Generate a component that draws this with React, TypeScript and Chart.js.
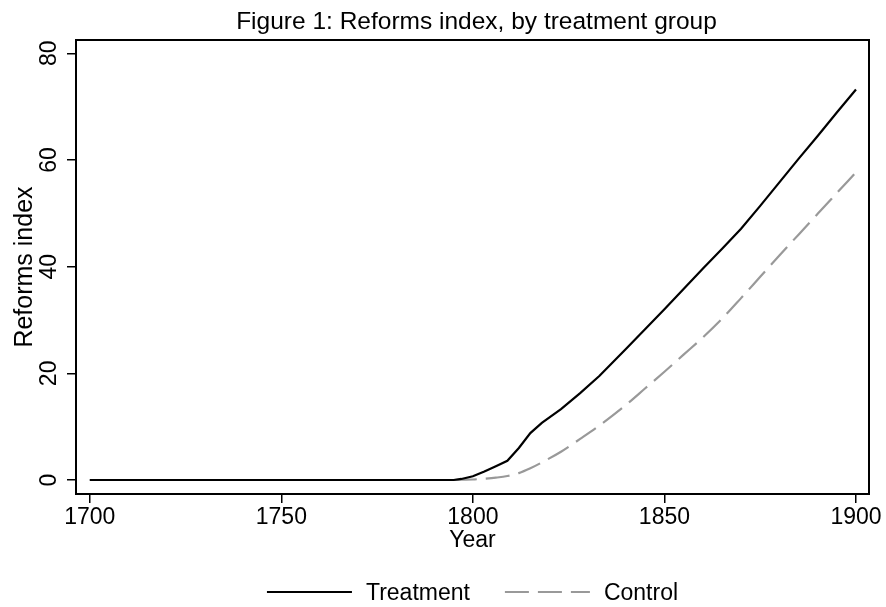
import React, { useEffect, useRef } from 'react';
import { Chart, registerables } from 'chart.js';

Chart.register(...registerables);

const titleText = 'Figure 1: Reforms index, by treatment group';
const xTitle = 'Year';
const yTitle = 'Reforms index';
const seriesNames = ['Treatment', 'Control'];

const years = [1700, 1795, 1797, 1800, 1803, 1806, 1809, 1812, 1815, 1818, 1823, 1828, 1833, 1840, 1845, 1850, 1855, 1860, 1865, 1870, 1875, 1880, 1885, 1890, 1895, 1900];
const treatment = [0, 0, 0.2, 0.7, 1.6, 2.6, 3.6, 6.0, 8.8, 10.7, 13.3, 16.3, 19.5, 24.6, 28.3, 32.0, 35.8, 39.6, 43.3, 47.1, 51.4, 55.8, 60.2, 64.5, 68.9, 73.2];
const control = [0, 0, 0.05, 0.1, 0.25, 0.45, 0.75, 1.3, 2.2, 3.3, 5.3, 7.7, 10.2, 14.1, 17.2, 20.3, 23.5, 26.7, 30.2, 34.1, 38.1, 42.1, 46.0, 49.9, 53.8, 57.7];

const xTicks = [1700, 1750, 1800, 1850, 1900];
const yTicks = [0, 20, 40, 60, 80];

const FONT = "'Liberation Sans', Arial, Helvetica, sans-serif";

export default function App() {
  const ref = useRef<HTMLCanvasElement>(null);

  useEffect(() => {
    document.body.style.margin = '0';
    const canvas = ref.current!;

    const decor = {
      id: 'decor',
      afterDraw(chart: any) {
        const { ctx, chartArea: a, scales } = chart;
        ctx.save();
        // plot box
        ctx.strokeStyle = '#000';
        ctx.lineWidth = 2;
        ctx.setLineDash([]);
        ctx.strokeRect(a.left, a.top, a.right - a.left, a.bottom - a.top);

        // rotated y tick labels
        ctx.fillStyle = '#000';
        ctx.font = `23px ${FONT}`;
        ctx.textAlign = 'center';
        ctx.textBaseline = 'alphabetic';
        for (const v of yTicks) {
          const y = scales.y.getPixelForValue(v);
          ctx.save();
          ctx.translate(a.left - 20, y);
          ctx.rotate(-Math.PI / 2);
          ctx.fillText(String(v), 0, 0);
          ctx.restore();
        }

        // title
        ctx.font = `24.5px ${FONT}`;
        ctx.textAlign = 'center';
        ctx.fillText(titleText, (a.left + a.right) / 2 + 4, 29);

        // legend
        ctx.font = `23px ${FONT}`;
        ctx.textAlign = 'left';
        const sample = 85;
        const textGap = 14;
        const itemGap = 35;
        const w1 = ctx.measureText(seriesNames[0]).width;
        const w2 = ctx.measureText(seriesNames[1]).width;
        const total = sample + textGap + w1 + itemGap + sample + textGap + w2;
        let x = (a.left + a.right) / 2 - total / 2;
        const ly = 592;
        const ds = chart.data.datasets;
        ctx.lineWidth = 2;
        ctx.strokeStyle = ds[0].borderColor;
        ctx.setLineDash([]);
        ctx.beginPath();
        ctx.moveTo(x, ly);
        ctx.lineTo(x + sample, ly);
        ctx.stroke();
        x += sample + textGap;
        ctx.fillText(seriesNames[0], x, ly + 8);
        x += w1 + itemGap;
        ctx.strokeStyle = ds[1].borderColor;
        ctx.setLineDash(ds[1].borderDash);
        ctx.beginPath();
        ctx.moveTo(x, ly);
        ctx.lineTo(x + sample, ly);
        ctx.stroke();
        ctx.setLineDash([]);
        x += sample + textGap;
        ctx.fillText(seriesNames[1], x, ly + 8);
        ctx.restore();
      },
    };

    const chart = new Chart(canvas, {
      type: 'line',
      data: {
        datasets: [
          {
            label: seriesNames[0],
            data: years.map((x, i) => ({ x, y: treatment[i] })),
            borderColor: '#000000',
            borderWidth: 2.2,
            pointRadius: 0,
            tension: 0,
            fill: false,
          },
          {
            label: seriesNames[1],
            data: years.map((x, i) => ({ x, y: control[i] })),
            borderColor: '#999999',
            borderWidth: 2.2,
            borderDash: [24, 9],
            pointRadius: 0,
            cubicInterpolationMode: 'monotone',
            fill: false,
          },
        ],
      },
      options: {
        responsive: false,
        animation: false,
        devicePixelRatio: 1,
        layout: { padding: { top: 40, right: 17, bottom: 43, left: 0 } },
        plugins: {
          legend: { display: false },
          title: { display: false },
          tooltip: { enabled: false },
        },
        scales: {
          x: {
            type: 'linear',
            min: 1696.4,
            max: 1903.4,
            afterBuildTicks: (s: any) => {
              s.ticks = xTicks.map((v) => ({ value: v }));
            },
            afterFit: (s: any) => {
              s.height = 70;
            },
            ticks: {
              color: '#000',
              font: { family: FONT, size: 23 },
              padding: 1,
              maxRotation: 0,
              minRotation: 0,
              autoSkip: false,
              callback: (v: any) => String(v),
            },
            grid: {
              drawOnChartArea: false,
              drawTicks: true,
              tickLength: 9,
              tickColor: '#000',
              tickWidth: 1.5,
              lineWidth: 1.5,
            },
            border: { display: false },
            title: {
              display: true,
              text: xTitle,
              color: '#000',
              font: { family: FONT, size: 23 },
              padding: { top: 0, bottom: 10 },
            },
          },
          y: {
            type: 'linear',
            min: -2.62,
            max: 82.49,
            afterBuildTicks: (s: any) => {
              s.ticks = yTicks.map((v) => ({ value: v }));
            },
            afterFit: (s: any) => {
              s.width = 76;
            },
            ticks: { display: false },
            grid: {
              drawOnChartArea: false,
              drawTicks: true,
              tickLength: 9,
              tickColor: '#000',
              tickWidth: 1.5,
              lineWidth: 1.5,
            },
            border: { display: false },
            title: {
              display: true,
              text: yTitle,
              color: '#000',
              font: { family: FONT, size: 25 },
              padding: { top: 10, bottom: 0 },
            },
          },
        },
      },
      plugins: [decor],
    });

    return () => chart.destroy();
  }, []);

  return <canvas ref={ref} width={886} height={607} style={{ display: 'block' }} />;
}
